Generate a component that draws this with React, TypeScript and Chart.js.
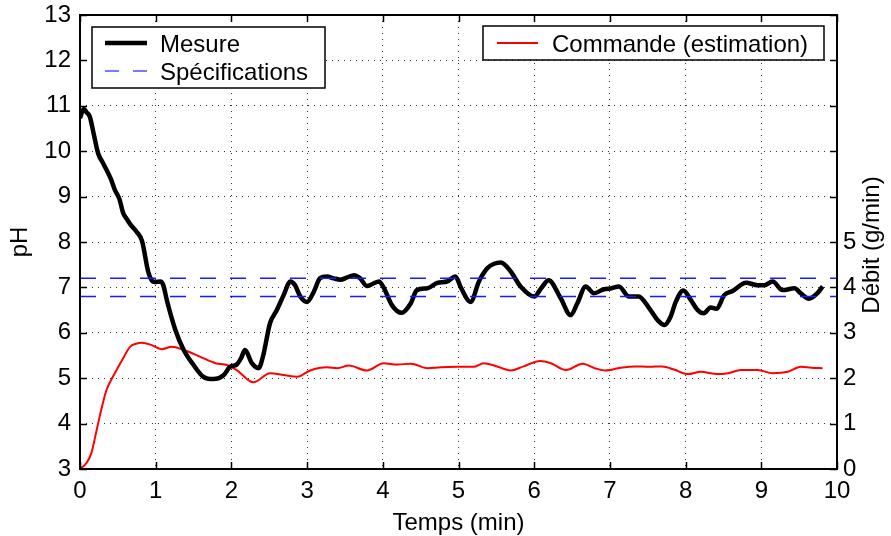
import React, { useEffect, useRef } from "react";
import { Chart, registerables } from "chart.js";

Chart.register(...registerables);

// Mesure (pH) — time in minutes
const mesureT = [0, 0.05, 0.09, 0.13, 0.18, 0.24, 0.3, 0.35, 0.41, 0.46, 0.52, 0.57, 0.62, 0.66, 0.71, 0.75, 0.82, 0.9, 0.95, 0.99, 1.06, 1.1, 1.15, 1.26, 1.37, 1.5, 1.63, 1.76, 1.9, 1.98, 2.07, 2.13, 2.18, 2.27, 2.36, 2.42, 2.51, 2.6, 2.69, 2.78, 2.84, 2.91, 3.0, 3.09, 3.17, 3.26, 3.35, 3.44, 3.53, 3.62, 3.7, 3.79, 3.87, 3.95, 4.01, 4.12, 4.25, 4.37, 4.45, 4.59, 4.72, 4.85, 4.96, 5.03, 5.16, 5.27, 5.38, 5.47, 5.56, 5.69, 5.82, 6.0, 6.1, 6.19, 6.35, 6.48, 6.57, 6.68, 6.79, 6.92, 7.02, 7.12, 7.25, 7.38, 7.52, 7.63, 7.72, 7.8, 7.87, 7.97, 8.07, 8.16, 8.24, 8.33, 8.41, 8.51, 8.62, 8.8, 8.95, 9.04, 9.15, 9.28, 9.44, 9.52, 9.63, 9.74, 9.81];
const mesurePH = [10.73, 10.93, 10.85, 10.76, 10.39, 9.95, 9.75, 9.59, 9.38, 9.15, 8.95, 8.64, 8.5, 8.4, 8.3, 8.22, 8.02, 7.35, 7.15, 7.12, 7.13, 7.05, 6.7, 6.06, 5.62, 5.29, 5.03, 4.98, 5.07, 5.25, 5.3, 5.45, 5.62, 5.33, 5.22, 5.5, 6.21, 6.5, 6.83, 7.13, 7.05, 6.8, 6.68, 6.91, 7.2, 7.24, 7.2, 7.17, 7.22, 7.27, 7.2, 7.03, 7.08, 7.13, 7.0, 6.61, 6.44, 6.65, 6.94, 6.98, 7.1, 7.13, 7.24, 7.0, 6.68, 7.13, 7.42, 7.52, 7.55, 7.35, 7.02, 6.8, 7.0, 7.16, 6.76, 6.39, 6.65, 7.02, 6.87, 6.96, 6.98, 7.02, 6.8, 6.8, 6.54, 6.28, 6.17, 6.35, 6.68, 6.93, 6.72, 6.5, 6.43, 6.56, 6.53, 6.83, 6.92, 7.1, 7.05, 7.05, 7.13, 6.94, 6.98, 6.87, 6.75, 6.87, 7.02];

// Commande (estimation) — débit in g/min
const commandeT = [0, 0.08, 0.15, 0.22, 0.29, 0.35, 0.46, 0.57, 0.66, 0.74, 0.82, 0.93, 1.08, 1.21, 1.37, 1.59, 1.79, 1.94, 2.07, 2.29, 2.51, 2.69, 2.87, 3.04, 3.26, 3.4, 3.55, 3.79, 4.01, 4.19, 4.37, 4.59, 4.76, 4.98, 5.2, 5.33, 5.49, 5.69, 5.86, 6.08, 6.22, 6.42, 6.64, 6.8, 6.94, 7.14, 7.34, 7.52, 7.69, 7.85, 8.03, 8.2, 8.42, 8.56, 8.73, 8.95, 9.15, 9.35, 9.52, 9.66, 9.81];
const commandeDebit = [0, 0.12, 0.35, 0.86, 1.37, 1.74, 2.11, 2.44, 2.69, 2.76, 2.78, 2.74, 2.64, 2.69, 2.62, 2.47, 2.33, 2.29, 2.18, 1.91, 2.11, 2.07, 2.03, 2.17, 2.24, 2.22, 2.28, 2.17, 2.33, 2.3, 2.32, 2.22, 2.24, 2.25, 2.25, 2.33, 2.27, 2.17, 2.26, 2.38, 2.33, 2.18, 2.32, 2.22, 2.17, 2.23, 2.26, 2.25, 2.26, 2.19, 2.09, 2.14, 2.09, 2.11, 2.18, 2.18, 2.11, 2.14, 2.25, 2.23, 2.22];

// Spécifications (pH limits)
const specLimits = [7.2, 6.8];
const specT = [0, 10];

const xTicks = [0, 1, 2, 3, 4, 5, 6, 7, 8, 9, 10];
const phTicks = [3, 4, 5, 6, 7, 8, 9, 10, 11, 12, 13];
const debitTickLabels = [0, 1, 2, 3, 4, 5];

const FONT = "'Liberation Sans', Arial, Helvetica, sans-serif";

const decorPlugin = {
  id: "decor",
  afterDraw(chart: any) {
    const ctx = chart.ctx;
    const { left, right, top, bottom } = chart.chartArea;
    const xs = chart.scales.x;
    const ys = chart.scales.y;
    ctx.save();
    // box
    ctx.strokeStyle = "#000";
    ctx.lineWidth = 2;
    ctx.setLineDash([]);
    ctx.strokeRect(left, top, right - left, bottom - top);
    // inward ticks
    ctx.lineWidth = 1.5;
    const tl = 7;
    ctx.beginPath();
    for (const v of xTicks) {
      const px = Math.round(xs.getPixelForValue(v)) + 0.5;
      ctx.moveTo(px, bottom);
      ctx.lineTo(px, bottom - tl);
      ctx.moveTo(px, top);
      ctx.lineTo(px, top + tl);
    }
    for (const v of phTicks) {
      const py = Math.round(ys.getPixelForValue(v)) + 0.5;
      ctx.moveTo(left, py);
      ctx.lineTo(left + tl, py);
      ctx.moveTo(right, py);
      ctx.lineTo(right - tl, py);
    }
    ctx.stroke();

    ctx.fillStyle = "#000";
    ctx.font = `24px ${FONT}`;
    // legend 1
    ctx.fillStyle = "#fff";
    ctx.fillRect(92, 27, 233, 61);
    ctx.strokeStyle = "#000";
    ctx.lineWidth = 1.5;
    ctx.strokeRect(92, 27, 233, 61);
    ctx.beginPath();
    ctx.lineWidth = 4.5;
    ctx.moveTo(105, 43);
    ctx.lineTo(147, 43);
    ctx.stroke();
    ctx.beginPath();
    ctx.lineWidth = 1.5;
    ctx.strokeStyle = "#4d4dff";
    ctx.setLineDash([14, 14]);
    ctx.moveTo(105, 71);
    ctx.lineTo(147, 71);
    ctx.stroke();
    ctx.setLineDash([]);
    ctx.fillStyle = "#000";
    ctx.textAlign = "left";
    ctx.textBaseline = "alphabetic";
    ctx.fillText("Mesure", 160, 52);
    ctx.fillText("Spécifications", 160, 80);

    // legend 2
    ctx.fillStyle = "#fff";
    ctx.fillRect(483, 26, 341, 34);
    ctx.strokeStyle = "#000";
    ctx.lineWidth = 1.5;
    ctx.strokeRect(483, 26, 341, 34);
    ctx.beginPath();
    ctx.strokeStyle = "#ff0000";
    ctx.lineWidth = 2;
    ctx.moveTo(497, 43);
    ctx.lineTo(538, 43);
    ctx.stroke();
    ctx.fillStyle = "#000";
    ctx.fillText("Commande (estimation)", 552, 52);

    // titles
    ctx.textAlign = "center";
    ctx.fillText("Temps (min)", (left + right) / 2, 530);
    ctx.save();
    ctx.translate(27, (top + bottom) / 2);
    ctx.rotate(-Math.PI / 2);
    ctx.fillText("pH", 0, 0);
    ctx.restore();
    ctx.save();
    ctx.translate(879, 245);
    ctx.rotate(-Math.PI / 2);
    ctx.fillText("Débit (g/min)", 0, 0);
    ctx.restore();
    ctx.restore();
  },
};

const noPadV = (w: number) => (s: any) => {
  s.width = w;
  s.paddingTop = 0;
  s.paddingBottom = 0;
};

export default function App() {
  const ref = useRef<HTMLCanvasElement | null>(null);
  useEffect(() => {
    if (!ref.current) return;
    const mesure = mesureT.map((t, i) => ({ x: t, y: mesurePH[i] }));
    const commande = commandeT.map((t, i) => ({ x: t, y: commandeDebit[i] }));
    const specs = specLimits.map((v) => specT.map((t) => ({ x: t, y: v })));
    const chart = new Chart(ref.current, {
      type: "line",
      data: {
        datasets: [
          ...specs.map((d, i) => ({
            label: i === 0 ? "Spécifications" : "Spécifications (bas)",
            data: d,
            borderColor: "#1a1aff",
            borderWidth: 1.5,
            borderDash: [16, 14],
            pointRadius: 0,
            yAxisID: "y",
            order: 0,
          })),
          {
            label: "Mesure",
            data: mesure,
            borderColor: "#000",
            borderWidth: 4.5,
            pointRadius: 0,
            cubicInterpolationMode: "monotone" as const,
            yAxisID: "y",
            order: 1,
          },
          {
            label: "Commande (estimation)",
            data: commande,
            borderColor: "#ff0000",
            borderWidth: 2,
            pointRadius: 0,
            cubicInterpolationMode: "monotone" as const,
            yAxisID: "y1",
            order: 2,
          },
        ],
      },
      options: {
        animation: false,
        responsive: false,
        devicePixelRatio: 1,
        layout: { padding: { top: 15, left: 0, right: 0, bottom: 0 } },
        plugins: { legend: { display: false }, tooltip: { enabled: false } },
        font: { family: FONT },
        scales: {
          x: {
            type: "linear",
            min: 0,
            max: 10,
            ticks: {
              stepSize: 1,
              color: "#000",
              padding: 8,
              maxRotation: 0,
              font: { family: FONT, size: 24 },
            },
            grid: { color: "rgba(0,0,0,0.8)", lineWidth: 1, drawTicks: false },
            border: { display: false, dash: [1, 5] },
            afterFit: (s: any) => {
              s.height = 67;
              s.paddingLeft = 0;
              s.paddingRight = 0;
            },
          },
          y: {
            type: "linear",
            position: "left",
            min: 3,
            max: 13,
            ticks: { stepSize: 1, color: "#000", padding: 9, font: { family: FONT, size: 24 } },
            grid: { color: "rgba(0,0,0,0.8)", lineWidth: 1, drawTicks: false },
            border: { display: false, dash: [1, 5] },
            afterFit: noPadV(80),
          },
          y1: {
            type: "linear",
            position: "right",
            min: 0,
            max: 10,
            ticks: {
              stepSize: 1,
              color: "#000",
              padding: 6,
              font: { family: FONT, size: 24 },
              callback: (v: any) => (debitTickLabels.includes(Number(v)) ? String(v) : ""),
            },
            grid: { display: false, drawTicks: false },
            border: { display: false },
            afterFit: noPadV(54),
          },
        },
      } as any,
      plugins: [decorPlugin],
    });
    return () => chart.destroy();
  }, []);
  return (
    <div style={{ position: "fixed", left: 0, top: 0, width: 891, height: 536, background: "#fff" }}>
      <canvas ref={ref} width={891} height={536} style={{ width: 891, height: 536, display: "block" }} />
    </div>
  );
}
